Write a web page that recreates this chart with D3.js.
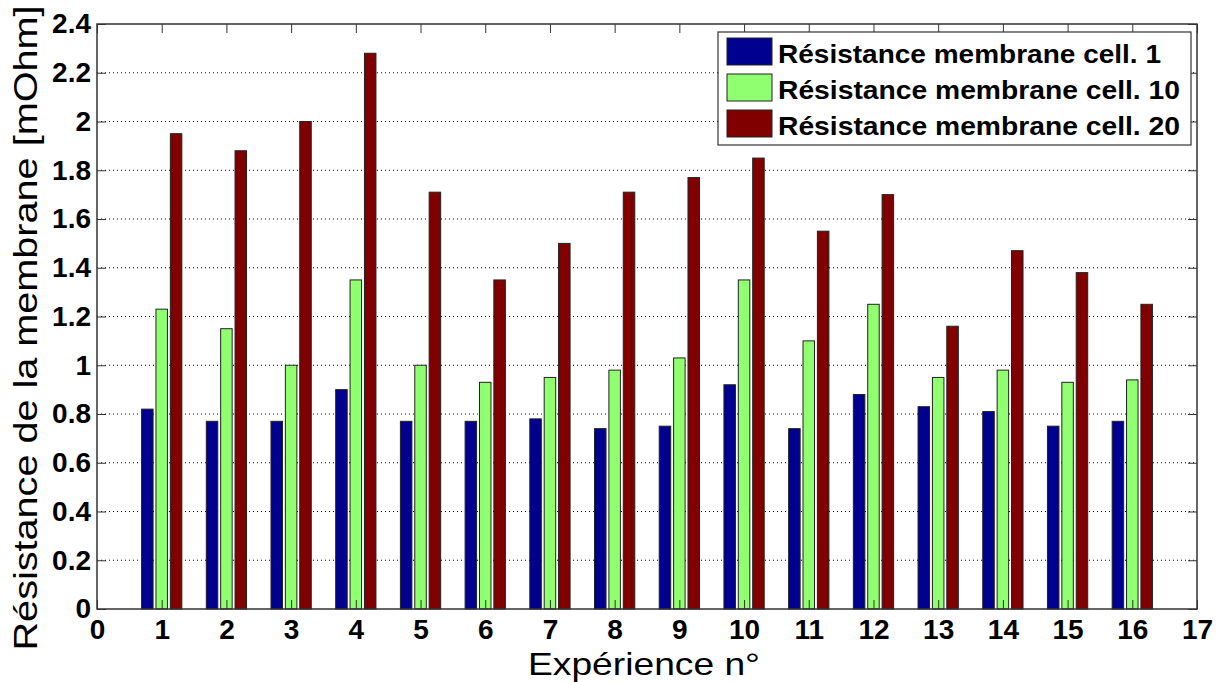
<!DOCTYPE html>
<html><head><meta charset="utf-8">
<script src="https://cdn.jsdelivr.net/npm/d3@7"></script>
<style>body{margin:0;background:#fff}svg{display:block}text{font-family:"Liberation Sans",Arial,sans-serif}</style>
</head><body><svg id="c" width="1221" height="682"></svg>
<script>
const experiments = [1,2,3,4,5,6,7,8,9,10,11,12,13,14,15,16];
const seriesNames = ["Résistance membrane cell. 1","Résistance membrane cell. 10","Résistance membrane cell. 20"];
const cell1  = [0.82,0.77,0.77,0.90,0.77,0.77,0.78,0.74,0.75,0.92,0.74,0.88,0.83,0.81,0.75,0.77];
const cell10 = [1.23,1.15,1.00,1.35,1.00,0.93,0.95,0.98,1.03,1.35,1.10,1.25,0.95,0.98,0.93,0.94];
const cell20 = [1.95,1.88,2.00,2.28,1.71,1.35,1.50,1.71,1.77,1.85,1.55,1.70,1.16,1.47,1.38,1.25];
const xTicks = [0,1,2,3,4,5,6,7,8,9,10,11,12,13,14,15,16,17];
const yTicks = [0,0.2,0.4,0.6,0.8,1,1.2,1.4,1.6,1.8,2,2.2,2.4];
const colors = ["#000090","#90ff70","#800000"];
const xTitle = "Expérience n°";
const yTitle = "Résistance de la membrane [mOhm]";

const values = [cell1, cell10, cell20];
const svg = d3.select("#c");
const L=97, R=1197, T=24, B=609;
const x = d3.scaleLinear().domain([0,17]).range([L,R]);
const y = d3.scaleLinear().domain([0,2.4]).range([B,T]);
const sub = d3.scaleBand().domain(d3.range(3)).range([-1/3,1/3]).paddingInner(0.2).paddingOuter(0.1);

// grid
svg.append("g").selectAll("line").data(yTicks.slice(1,-1)).join("line")
  .attr("x1",L).attr("x2",R).attr("y1",d=>y(d)).attr("y2",d=>y(d))
  .attr("stroke","#000").attr("stroke-width",1).attr("stroke-dasharray","1,3");

// bars
const rows = [];
values.forEach((arr,s)=>arr.forEach((v,i)=>rows.push({s, e:experiments[i], v})));
svg.append("g").selectAll("rect").data(rows).join("rect")
  .attr("x",d=>x(d.e+sub(d.s)))
  .attr("width",d=>x(sub.bandwidth())-x(0))
  .attr("y",d=>y(d.v)).attr("height",d=>y(0)-y(d.v))
  .attr("fill",d=>colors[d.s]).attr("stroke","#222").attr("stroke-width",1);

// axes
const fmt = d=>d3.format("~g")(d);
const ax = (g)=>g.selectAll("text").attr("font-size",28).attr("font-weight","bold").attr("fill","#000")
  .attr("font-family","Liberation Sans, Arial, sans-serif");
svg.append("g").attr("transform",`translate(0,${B})`)
  .call(d3.axisBottom(x).tickValues(xTicks).tickFormat(fmt).tickSizeInner(-9).tickSizeOuter(0).tickPadding(10))
  .call(g=>g.select(".domain").remove()).call(ax)
  .call(g=>g.selectAll("line").attr("stroke","#333"));
svg.append("g").attr("transform",`translate(0,${T})`)
  .call(d3.axisTop(x).tickValues(xTicks).tickFormat("").tickSizeInner(-9).tickSizeOuter(0))
  .call(g=>g.select(".domain").remove()).call(g=>g.selectAll("line").attr("stroke","#333"));
svg.append("g").attr("transform",`translate(${L},0)`)
  .call(d3.axisLeft(y).tickValues(yTicks).tickFormat(fmt).tickSizeInner(-9).tickSizeOuter(0).tickPadding(6))
  .call(g=>g.select(".domain").remove()).call(ax)
  .call(g=>g.selectAll("line").attr("stroke","#333"));
svg.append("g").attr("transform",`translate(${R},0)`)
  .call(d3.axisRight(y).tickValues(yTicks).tickFormat("").tickSizeInner(-9).tickSizeOuter(0))
  .call(g=>g.select(".domain").remove()).call(g=>g.selectAll("line").attr("stroke","#333"));
svg.append("rect").attr("x",L).attr("y",T).attr("width",R-L).attr("height",B-T)
  .attr("fill","none").attr("stroke","#333").attr("stroke-width",1.5);

// titles
svg.append("text").attr("x",644).attr("y",675).attr("text-anchor","middle")
  .attr("font-size",32).attr("fill","#000")
  .attr("textLength",232).attr("lengthAdjust","spacingAndGlyphs").text(xTitle);
svg.append("text").attr("transform",`translate(37,328) rotate(-90)`).attr("text-anchor","middle")
  .attr("font-size",33).attr("fill","#000")
  .attr("textLength",645).attr("lengthAdjust","spacingAndGlyphs").text(yTitle);

// legend
const lg = svg.append("g");
lg.append("rect").attr("x",718).attr("y",32).attr("width",473).attr("height",113)
  .attr("fill","#fff").attr("stroke","#333").attr("stroke-width",1.2);
const legLen = [383,402,402];
seriesNames.forEach((n,i)=>{
  const cy = 51.5 + i*36;
  lg.append("rect").attr("x",727).attr("y",cy-13.5).attr("width",45).attr("height",27)
    .attr("fill",colors[i]).attr("stroke","#222");
  lg.append("text").attr("x",778).attr("y",cy+11.5).attr("font-size",26).attr("font-weight","bold")
    .attr("fill","#000").attr("textLength",legLen[i]).attr("lengthAdjust","spacingAndGlyphs").text(n);
});
</script></body></html>
